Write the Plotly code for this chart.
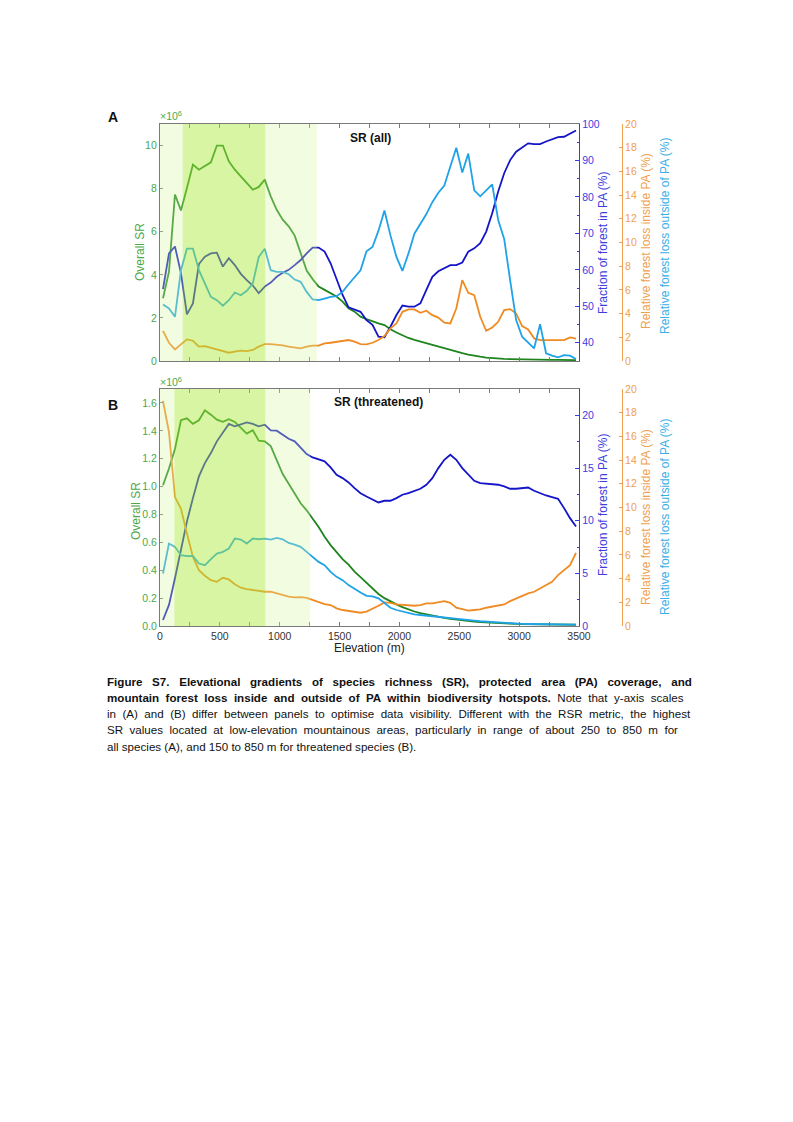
import plotly.graph_objects as go

# ---------------- data ----------------
elevation = [25 + 50 * i for i in range(70)]

sr_all = [2.91, 4.15, 7.72, 6.99, 8.03, 9.12, 8.88, 9.04, 9.22, 10.0, 10.0, 9.27, 8.88, 8.57, 8.26, 7.95, 8.08, 8.42,
          7.64, 7.02, 6.56, 6.25, 5.82, 5.00, 4.20, 3.80, 3.46, 3.30, 3.15, 2.99, 2.76, 2.45, 2.29, 2.06, 1.94, 1.83,
          1.75, 1.67, 1.47, 1.32, 1.18, 1.07, 0.98, 0.90, 0.81, 0.73, 0.66, 0.58, 0.51, 0.44, 0.36, 0.30, 0.24, 0.20,
          0.16, 0.13, 0.11, 0.10, 0.09, 0.08, 0.07, 0.07, 0.06, 0.06, 0.05, 0.05, 0.05, 0.04, 0.04, 0.04]
pa_all = [54.7, 64.5, 66.4, 59.1, 47.8, 50.8, 61.6, 63.6, 64.5, 64.7, 60.9, 63.2, 61.3, 58.9, 57.2, 55.7, 53.6, 55.4,
          56.5, 58.1, 59.2, 60.0, 61.3, 62.7, 64.5, 66.1, 66.1, 65.0, 61.8, 57.2, 53.1, 49.7, 49.0, 48.5, 46.2, 44.9,
          41.7, 41.5, 44.4, 47.6, 50.2, 49.9, 49.9, 50.8, 54.5, 58.1, 59.6, 60.4, 61.3, 61.3, 62.0, 65.0, 65.9, 67.3,
          70.5, 75.5, 81.5, 86.5, 90.1, 92.4, 93.5, 94.7, 94.5, 94.5, 95.2, 95.8, 96.4, 96.5, 97.3, 98.2]
loss_out_all = [4.77, 4.43, 3.73, 7.66, 9.48, 9.48, 7.66, 6.54, 5.41, 5.13, 4.66, 5.13, 5.78, 5.55, 5.92, 6.54, 8.78,
                9.48, 7.66, 7.52, 7.52, 7.32, 6.87, 6.68, 5.83, 5.19, 5.13, 5.27, 5.41, 5.47, 5.83, 6.48, 7.10, 7.66,
                9.26, 9.62, 11.0, 12.7, 10.6, 8.78, 7.60, 9.06, 10.74, 11.6, 12.4, 13.4, 14.2, 14.8, 16.35, 18.0, 15.9,
                17.5, 14.4, 13.9, 14.4, 14.9, 11.9, 10.3, 6.8, 3.45, 2.05, 1.54, 1.07, 3.11, 0.65, 0.45, 0.31, 0.50,
                0.45, 0.17]
loss_in_all = [2.55, 1.54, 0.98, 1.43, 1.82, 1.71, 1.21, 1.26, 1.12, 0.98, 0.87, 0.70, 0.79, 0.87, 0.84, 0.93, 1.21,
               1.43, 1.43, 1.40, 1.32, 1.21, 1.15, 1.07, 1.21, 1.29, 1.29, 1.49, 1.54, 1.63, 1.71, 1.77, 1.63, 1.43,
               1.40, 1.54, 1.77, 2.10, 2.75, 3.17, 4.15, 4.35, 4.35, 4.07, 4.24, 3.87, 3.66, 3.23, 3.17, 4.43, 6.82,
               5.75, 5.55, 3.73, 2.55, 2.83, 3.31, 4.29, 4.38, 4.01, 2.95, 2.66, 1.91, 1.77, 1.77, 1.77, 1.77, 1.77,
               1.99, 1.88]

sr_thr = [1.01, 1.13, 1.27, 1.476, 1.49, 1.45, 1.476, 1.547, 1.516, 1.48, 1.464, 1.483, 1.464, 1.42, 1.38, 1.404,
          1.33, 1.325, 1.29, 1.19, 1.09, 1.02, 0.95, 0.88, 0.83, 0.77, 0.71, 0.64, 0.58, 0.53, 0.48, 0.44, 0.39, 0.35,
          0.31, 0.27, 0.23, 0.20, 0.175, 0.155, 0.135, 0.118, 0.104, 0.093, 0.083, 0.074, 0.066, 0.058, 0.051, 0.045,
          0.040, 0.035, 0.031, 0.028, 0.025, 0.022, 0.020, 0.018, 0.016, 0.015, 0.014, 0.013, 0.012, 0.011, 0.011,
          0.010, 0.010, 0.010, 0.009, 0.009]
pa_thr = [0.57, 2.0, 4.53, 7.38, 9.92, 12.14, 14.2, 15.47, 16.42, 17.53, 18.32, 19.18, 18.95, 19.11, 19.33, 19.18,
          18.95, 19.11, 18.57, 18.54, 18.16, 17.78, 17.53, 16.95, 16.32, 16.0, 15.78, 15.63, 15.06, 14.36, 14.04,
          13.63, 13.09, 12.61, 12.30, 11.98, 11.73, 11.89, 11.89, 12.14, 12.46, 12.61, 12.84, 13.03, 13.41, 14.04,
          14.99, 15.78, 16.26, 15.78, 14.99, 14.36, 13.79, 13.57, 13.50, 13.47, 13.41, 13.25, 13.03, 13.03, 13.06,
          13.15, 12.84, 12.61, 12.39, 12.23, 12.08, 11.19, 10.24, 9.45]
loss_out_thr = [4.43, 6.96, 6.68, 5.97, 5.89, 5.92, 5.27, 5.13, 5.64, 6.11, 6.26, 6.54, 7.38, 7.29, 6.96, 7.38, 7.32,
                7.38, 7.29, 7.43, 7.32, 7.01, 6.87, 6.68, 6.26, 5.83, 5.41, 5.13, 4.57, 4.15, 3.87, 3.45, 3.11, 2.83,
                2.55, 2.50, 2.33, 1.91, 1.54, 1.35, 1.21, 1.07, 0.98, 0.93, 0.87, 0.81, 0.76, 0.70, 0.65, 0.60, 0.54,
                0.49, 0.45, 0.40, 0.36, 0.32, 0.29, 0.25, 0.22, 0.20, 0.18, 0.17, 0.16, 0.15, 0.14, 0.13, 0.13, 0.12,
                0.12, 0.11]
loss_in_thr = [19.0, 16.35, 10.88, 9.90, 7.80, 5.83, 4.71, 4.24, 3.87, 3.73, 4.07, 3.93, 3.53, 3.23, 3.11, 3.03, 2.95,
               2.89, 2.89, 2.75, 2.61, 2.47, 2.41, 2.44, 2.38, 2.19, 2.05, 1.85, 1.77, 1.49, 1.35, 1.26, 1.15, 1.12,
               1.21, 1.43, 1.71, 1.99, 1.96, 1.82, 1.77, 1.71, 1.71, 1.77, 1.91, 1.91, 2.02, 2.10, 1.96, 1.54, 1.43,
               1.29, 1.35, 1.40, 1.54, 1.63, 1.71, 1.82, 2.10, 2.33, 2.55, 2.75, 2.89, 3.17, 3.45, 3.73, 4.29, 4.71,
               5.13, 6.17]

# shaded elevation bands: (start, end, kind)
bands_all = [(0, 190, "light"), (190, 880, "dark"), (880, 1310, "light")]
bands_thr = [(0, 120, "light"), (120, 880, "dark"), (880, 1255, "light")]

x_ticks = [0, 500, 1000, 1500, 2000, 2500, 3000, 3500]

# ---------------- style ----------------
# The page body keeps its default 8px margin, so the figure is sized to fit
# inside the 793x1122 window and page positions are shifted by that margin.
OFF = 8
W, H = 777, 1100
def px(x):
    return (x - OFF) / W
def py(y):
    return 1 - (y - OFF) / H

GREEN = "#1e851e"
GREEN_T = "#4aa84a"
BLUE = "#1414c8"
BLUE_T = "#3c3ce0"
CYAN = "#1fa2e8"
CYAN_T = "#3aaee6"
ORANGE = "#f08a22"
ORANGE_T = "#f0a050"
GRAY = "#7a7a7a"
FONT = "Liberation Sans, Arial, sans-serif"
LW = 1.8

X0, X1 = 160, 579
ORX = 622
A_TOP, A_BOT = 124, 361
B_TOP, B_BOT = 389, 626

fig = go.Figure()

def add_panel(xa, ya_left, ya_blue, ya_or, sr, pa, lin, lout):
    fig.add_trace(go.Scatter(x=elevation, y=lin, xaxis=xa, yaxis=ya_or, mode="lines",
                             line=dict(color=ORANGE, width=LW), showlegend=False))
    fig.add_trace(go.Scatter(x=elevation, y=lout, xaxis=xa, yaxis=ya_or, mode="lines",
                             line=dict(color=CYAN, width=LW), showlegend=False))
    fig.add_trace(go.Scatter(x=elevation, y=pa, xaxis=xa, yaxis=ya_blue, mode="lines",
                             line=dict(color=BLUE, width=LW), showlegend=False))
    fig.add_trace(go.Scatter(x=elevation, y=sr, xaxis=xa, yaxis=ya_left, mode="lines",
                             line=dict(color=GREEN, width=LW), showlegend=False))

add_panel("x", "y", "y2", "y3", sr_all, pa_all, loss_in_all, loss_out_all)
add_panel("x2", "y4", "y5", "y6", sr_thr, pa_thr, loss_in_thr, loss_out_thr)

xcommon = dict(range=[0, 3500], tickvals=x_ticks, ticks="inside", ticklen=4, tickcolor=GRAY,
               showline=True, linecolor=GRAY, linewidth=1.2, mirror="allticks", showgrid=False,
               zeroline=False, domain=[px(X0), px(X1)], automargin=False,
               minor=dict(dtick=250, ticks="inside", ticklen=3, tickcolor=GRAY))

def left_axis(dom, rng, vals, anchor, fmt=None):
    d = dict(domain=dom, range=rng, tickvals=vals, ticks="inside", ticklen=3, tickcolor=GRAY,
             showline=True, linecolor=GRAY, linewidth=1.2, automargin=False,
             tickfont=dict(family=FONT, size=10.5, color=GREEN_T), showgrid=False, zeroline=False,
             anchor=anchor)
    if fmt:
        d["tickformat"] = fmt
    return d

def blue_axis(over, anchor, rng, vals, minor):
    return dict(overlaying=over, side="right", anchor=anchor, range=rng, tickvals=vals,
                ticks="inside", ticklen=4, tickcolor=BLUE_T, showline=True, linecolor=BLUE_T,
                linewidth=1.2, showgrid=False, zeroline=False, automargin=False,
                tickfont=dict(family=FONT, size=10.5, color=BLUE_T),
                minor=dict(dtick=minor, ticks="inside", ticklen=2, tickcolor=BLUE_T))

def orange_axis(over):
    return dict(overlaying=over, side="right", anchor="free", position=px(ORX), range=[0, 20],
                tickvals=list(range(0, 21, 2)), ticks="inside", ticklen=3, tickcolor=ORANGE_T,
                showline=True, linecolor=ORANGE_T, linewidth=1, showgrid=False, zeroline=False,
                automargin=False, tickfont=dict(family=FONT, size=10.5, color=ORANGE_T))

fig.update_layout(
    width=W, height=H, autosize=False, margin=dict(l=0, r=0, t=0, b=0, pad=0),
    paper_bgcolor="white", plot_bgcolor="white",
    font=dict(family=FONT, color="#222"),
    xaxis=dict(**xcommon, anchor="y", showticklabels=False),
    xaxis2=dict(**xcommon, anchor="y4", showticklabels=True,
                tickfont=dict(family=FONT, size=10.5, color="#333")),
    yaxis=left_axis([py(A_BOT), py(A_TOP)], [0, 11], [0, 2, 4, 6, 8, 10], "x"),
    yaxis2=blue_axis("y", "x", [35, 100], [40, 50, 60, 70, 80, 90, 100], 5),
    yaxis3=orange_axis("y"),
    yaxis4=left_axis([py(B_BOT), py(B_TOP)], [0, 1.7], [0, 0.2, 0.4, 0.6, 0.8, 1.0, 1.2, 1.4, 1.6], "x2",
                     fmt=".1f"),
    yaxis5=blue_axis("y4", "x2", [0, 22.5], [0, 5, 10, 15, 20], 2.5),
    yaxis6=orange_axis("y4"),
)

# shaded bands (drawn above lines, semi-transparent, as in the reference)
band_fill = {"light": "rgba(215,245,160,0.32)", "dark": "rgba(173,233,62,0.47)"}
for xa, ya, bands in (("x", "y", bands_all), ("x2", "y4", bands_thr)):
    for a, b, kind in bands:
        fig.add_shape(type="rect", xref=xa, yref=ya + " domain", x0=a, x1=b, y0=0, y1=1,
                      fillcolor=band_fill[kind], line=dict(width=0), layer="above")

ann = []
def text(x, y, t, size=12, color="#222", angle=0, xanchor="center", yanchor="middle", bold=False):
    ann.append(dict(x=px(x), y=py(y), xref="paper", yref="paper", text=("<b>%s</b>" % t) if bold else t,
                    showarrow=False, textangle=angle, xanchor=xanchor, yanchor=yanchor,
                    font=dict(family=FONT, size=size, color=color)))

# panel A texts
text(113, 117, "A", size=14, color="#111", bold=True)
text(158, 116, "×10<sup>6</sup>", size=10.5, color=GREEN_T, xanchor="left")
text(370, 138, "SR (all)", size=12, color="#111", bold=True)
text(140, 252, "Overall SR", size=12, color=GREEN_T, angle=-90)
text(603, 243, "Fraction of forest in PA (%)", size=12, color=BLUE_T, angle=-90)
text(646, 241, "Relative forest loss inside PA (%)", size=12, color=ORANGE_T, angle=-90)
text(665, 236, "Relative forest loss outside of PA (%)", size=12, color=CYAN_T, angle=-90)

# panel B texts
text(113, 405, "B", size=14, color="#111", bold=True)
text(158, 381, "×10<sup>6</sup>", size=10.5, color=GREEN_T, xanchor="left")
text(378, 402, "SR (threatened)", size=12, color="#111", bold=True)
text(136, 511, "Overall SR", size=12, color=GREEN_T, angle=-90)
text(603, 505, "Fraction of forest in PA (%)", size=12, color=BLUE_T, angle=-90)
text(646, 517, "Relative forest loss inside PA (%)", size=12, color=ORANGE_T, angle=-90)
text(665, 517, "Relative forest loss outside of PA (%)", size=12, color=CYAN_T, angle=-90)
text(369, 648, "Elevation (m)", size=12, color="#222")

# caption (lines justified by widening the word gaps with non-breaking spaces)
NB = "\u00a0"
cap = [
    ("<b>%s</b>" % "Figure S7. Elevational gradients of species richness (SR), protected area (PA) coverage, and", 2),
    ("<b>mountain forest loss inside and outside of PA within biodiversity hotspots.</b> Note that y-axis scales", 1),
    ("in (A) and (B) differ between panels to optimise data visibility. Different with the RSR metric, the highest", 1),
    ("SR values located at low-elevation mountainous areas, particularly in range of about 250 to 850 m for", 1),
    ("all species (A), and 150 to 850 m for threatened species (B).", 0),
]
for i, (line, extra) in enumerate(cap):
    if extra:
        parts = line.split(" ")
        line = (" " + NB * extra).join(parts)
    text(105, 681 + 16.3 * i, line, size=11.6, color="#111", xanchor="left")

fig.update_layout(annotations=ann)
fig.write_html("out.html", config={"responsive": False, "displayModeBar": False})
